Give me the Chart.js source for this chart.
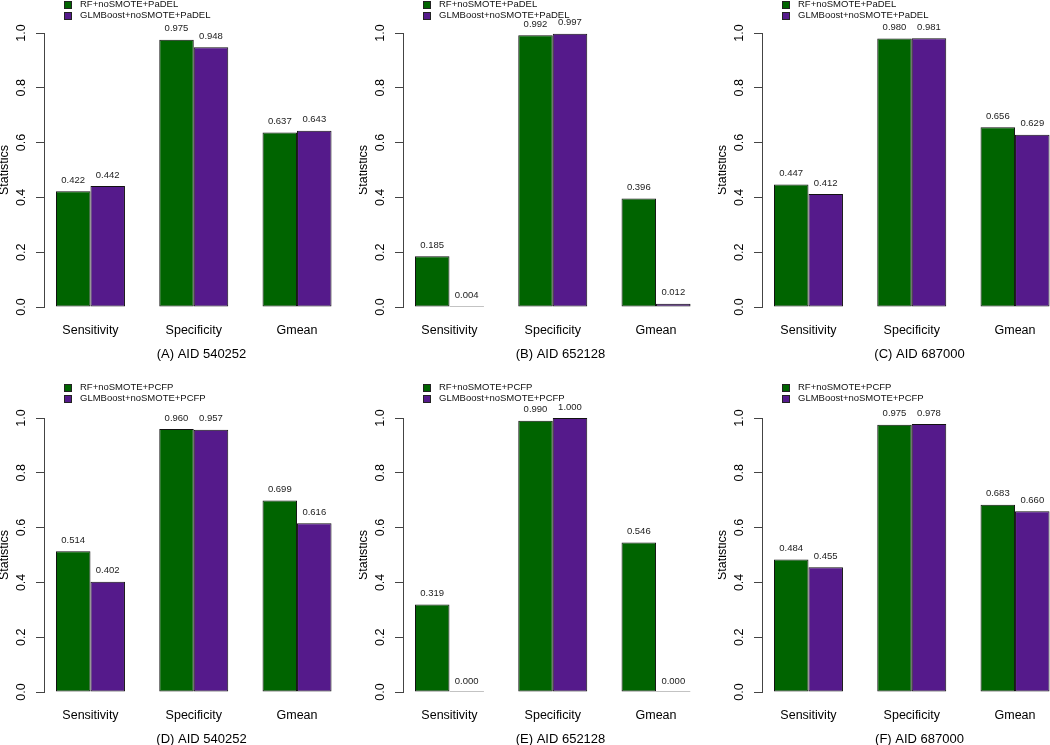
<!DOCTYPE html>
<html>
<head>
<meta charset="utf-8">
<script src="https://cdn.jsdelivr.net/npm/chart.js@4.4.1/dist/chart.umd.min.js"></script>
<style>
  html, body { margin: 0; padding: 0; background: #fff; overflow: hidden; }
  body { width: 1050px; height: 745px; position: relative; }
  canvas { position: absolute; }
</style>
</head>
<body>
<canvas id="pA" width="359" height="385" style="left:0px;top:0px"></canvas>
<canvas id="pB" width="359" height="385" style="left:359px;top:0px"></canvas>
<canvas id="pC" width="359" height="385" style="left:718px;top:0px"></canvas>
<canvas id="pD" width="359" height="395" style="left:0px;top:375px"></canvas>
<canvas id="pE" width="359" height="395" style="left:359px;top:375px"></canvas>
<canvas id="pF" width="359" height="395" style="left:718px;top:375px"></canvas>
<script>
const categories = ['Sensitivity', 'Specificity', 'Gmean'];
const yTicks = [0, 0.2, 0.4, 0.6, 0.8, 1.0];

// PaDEL descriptors
const rfA = [0.422, 0.975, 0.637];
const glmA = [0.442, 0.948, 0.643];
const rfB = [0.185, 0.992, 0.396];
const glmB = [0.004, 0.997, 0.012];
const rfC = [0.447, 0.980, 0.656];
const glmC = [0.412, 0.981, 0.629];
// PCFP fingerprints
const rfD = [0.514, 0.960, 0.699];
const glmD = [0.402, 0.957, 0.616];
const rfE = [0.319, 0.990, 0.546];
const glmE = [0.000, 1.000, 0.000];
const rfF = [0.484, 0.975, 0.683];
const glmF = [0.455, 0.978, 0.660];

const padelNames = ['RF+noSMOTE+PaDEL', 'GLMBoost+noSMOTE+PaDEL'];
const pcfpNames = ['RF+noSMOTE+PCFP', 'GLMBoost+noSMOTE+PCFP'];

const green = '#006400';
const purple = '#551a8b';
const fontFam = '"Liberation Sans", Arial, Helvetica, sans-serif';

Chart.defaults.font.family = fontFam;
Chart.defaults.color = '#000';

// numbers above the bars
const barValues = {
  id: 'barValues',
  afterDatasetsDraw(chart) {
    const ctx = chart.ctx;
    const y = chart.scales.y;
    ctx.save();
    ctx.font = '9.5px ' + fontFam;
    ctx.fillStyle = '#222';
    ctx.textAlign = 'center';
    ctx.textBaseline = 'middle';
    chart.data.datasets.forEach((ds, i) => {
      chart.getDatasetMeta(i).data.forEach((bar, j) => {
        const v = ds.data[j].y;
        ctx.fillText(v.toFixed(3), bar.x, y.getPixelForValue(v) - 11);
      });
    });
    ctx.restore();
  }
};

// R style legend: small squares stacked top left
const sideLegend = {
  id: 'sideLegend',
  afterDraw(chart, args, opts) {
    const ctx = chart.ctx;
    ctx.save();
    ctx.font = '9.5px ' + fontFam;
    ctx.textBaseline = 'middle';
    chart.data.datasets.forEach((ds, i) => {
      const cy = opts.top + i * 11.7;
      const sy = Math.round(cy - 3.5) + 0.5;
      ctx.fillStyle = ds.backgroundColor;
      ctx.fillRect(opts.left + 0.5, sy, 7, 7);
      ctx.strokeStyle = '#222';
      ctx.lineWidth = 1;
      ctx.strokeRect(opts.left + 0.5, sy, 7, 7);
      ctx.fillStyle = '#111';
      ctx.fillText(ds.label, opts.left + 16, cy);
    });
    ctx.restore();
  }
};

function makePanel(id, rf, glm, names, title, topPad, legendTop) {
  new Chart(document.getElementById(id), {
    type: 'bar',
    data: {
      datasets: [
        { label: names[0], data: rf.map((v, i) => ({ x: i, y: v })), backgroundColor: green },
        { label: names[1], data: glm.map((v, i) => ({ x: i, y: v })), backgroundColor: purple }
      ]
    },
    options: {
      responsive: false,
      animation: false,
      layout: { padding: { top: topPad, right: 0, bottom: 0, left: 0 } },
      datasets: {
        bar: {
          borderColor: '#111',
          borderWidth: 1,
          borderSkipped: false,
          categoryPercentage: 0.668,
          barPercentage: 1,
          minBarLength: 1
        }
      },
      plugins: {
        legend: { display: false },
        tooltip: { enabled: false },
        sideLegend: { left: 64, top: legendTop }
      },
      scales: {
        x: {
          type: 'linear',
          offset: false,
          min: -0.45,
          max: 2.6,
          afterFit: s => { s.height = 78; },
          grid: { display: false, drawTicks: false, offset: false },
          border: { display: false },
          ticks: {
            stepSize: 1,
            includeBounds: false,
            autoSkip: false,
            padding: 16,
            font: { size: 12.5 },
            callback: v => categories[v] ?? ''
          },
          title: { display: true, text: title, font: { size: 13 }, padding: { top: 0, bottom: 23 } }
        },
        y: {
          min: 0,
          max: 1,
          afterFit: s => { s.width = 44; },
          afterBuildTicks: s => { s.ticks = yTicks.map(v => ({ value: v })); },
          grid: { drawOnChartArea: false, drawTicks: true, tickLength: 8, color: '#444' },
          border: { color: '#444' },
          ticks: {
            minRotation: 90,
            maxRotation: 90,
            crossAlign: 'center',
            padding: 5.6,
            font: { size: 12.5 },
            callback: v => v.toFixed(1)
          },
          title: { display: true, text: 'Statistics', font: { size: 12.5, lineHeight: 0.8 }, padding: 0 }
        }
      }
    },
    plugins: [barValues, sideLegend]
  });
}

makePanel('pA', rfA, glmA, padelNames, '(A) AID 540252', 33, 4);
makePanel('pB', rfB, glmB, padelNames, '(B) AID 652128', 33, 4);
makePanel('pC', rfC, glmC, padelNames, '(C) AID 687000', 33, 4);
makePanel('pD', rfD, glmD, pcfpNames, '(D) AID 540252', 43, 12);
makePanel('pE', rfE, glmE, pcfpNames, '(E) AID 652128', 43, 12);
makePanel('pF', rfF, glmF, pcfpNames, '(F) AID 687000', 43, 12);
</script>
</body>
</html>
